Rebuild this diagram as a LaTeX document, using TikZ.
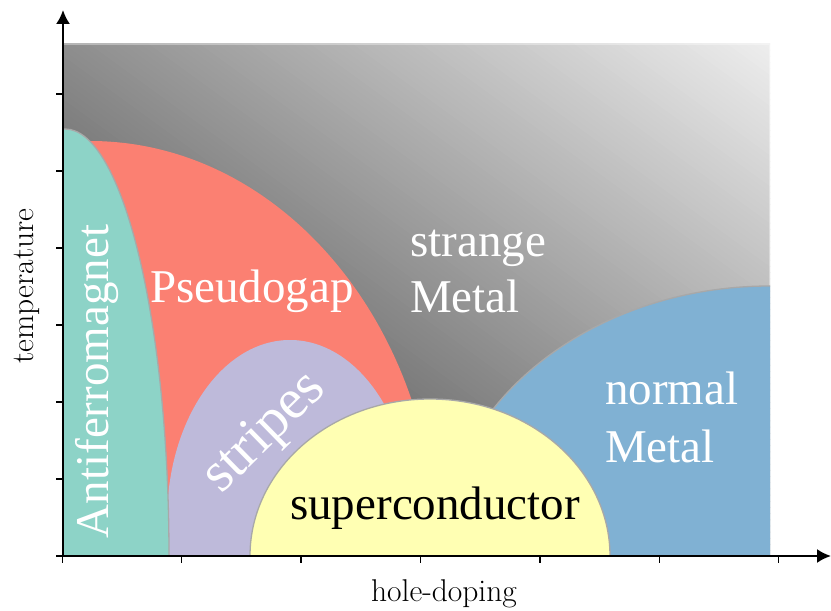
\documentclass[tikz,border=0pt]{standalone}
\usepackage{fontspec}
\newfontfamily\labelfont{Liberation Serif}
\usetikzlibrary{arrows.meta}
\definecolor{afmcol}{HTML}{8DD3C7}
\definecolor{pgcol}{HTML}{FB8072}
\definecolor{stpcol}{HTML}{BEBADA}
\definecolor{sccol}{HTML}{FFFFB3}
\definecolor{nmcol}{HTML}{80B1D3}
\definecolor{edgecol}{HTML}{A8A8A8}
\begin{document}
\begin{tikzpicture}[x=1pt,y=1pt,
  phase/.style={draw=edgecol,line width=1.3pt},
  biglabel/.style={font=\labelfont\fontsize{47}{56}\selectfont, text=white, inner sep=0pt},
  axislabel/.style={font=\fontsize{31.5}{36}\selectfont, inner sep=0pt},
  axisline/.style={line width=2pt, -{Latex[length=14pt,width=14pt]}},
  tickmark/.style={line width=1.3pt}]
\useasboundingbox (0,0) rectangle (831,611);
\begin{scope}
  \clip (63,55) rectangle (770,567);
  % gradient background
  \begin{scope}[shift={(65,566)}, rotate=54]
    \foreach \t in {-420,-415,...,420}{
      \pgfmathsetmacro\gv{min(1,max(0,(142+0.232*\t)/255))}
      \definecolor{stripcol}{gray}{\gv}
      \fill[stripcol] (\t,-1000) rectangle (\t+5.6,1000);
    }
  \end{scope}
  \draw[white, opacity=0.35, line width=2pt] (63,55) rectangle (770,567);
  % phases
  \fill[pgcol] (90,55) ellipse [x radius=347pt, y radius=415pt];
  \fill[stpcol] (290,91) ellipse [x radius=123pt, y radius=180pt];
  \filldraw[afmcol, phase] (65,55) ellipse [x radius=104pt, y radius=427pt];
  \filldraw[nmcol, phase] (770,55) ellipse [x radius=330pt, y radius=270pt];
  \filldraw[sccol, phase] (430,55) ellipse [x radius=180pt, y radius=157pt];
\end{scope}
% labels
\node[biglabel, anchor=base west] (strangeA) at (410,354) {strange};
\node[biglabel, anchor=base west] (strangeB) at (410,298) {Metal};
\node[biglabel, anchor=base west] (pseudo) at (150,308) {Pseudogap};
\node[biglabel, anchor=base west] (normalA) at (605,206) {normal};
\node[biglabel, anchor=base west] (normalB) at (605,148) {Metal};
\node[biglabel, anchor=base west, text=black] (superc) at (290,91) {superconductor};
\node[biglabel, rotate=90, anchor=base] (antiferro) at (108,229.5) {Antiferromagnet};
\node[biglabel, font=\labelfont\fontsize{57}{64}\selectfont, rotate=44.4] (stripes) at (265.5,177.5) {stripes};
% axes
\coordinate (O) at (63,55);
\coordinate (Ytip) at (63,601);
\coordinate (Xtip) at (831,55);
\draw[axisline] (O) -- (Ytip);
\draw[axisline] (O) -- (Xtip);
\foreach \yy in {55,132,209,286,363,440,517} \draw[tickmark] (56,\yy) -- (63,\yy);
\foreach \xx in {62.3,181.7,301.1,420.5,539.9,659.3,778.7} \draw[tickmark] (\xx,55) -- (\xx,48);
\node[axislabel, rotate=90, anchor=base] (tlabel) at (33,325) {temperature};
\node[axislabel, anchor=base] (hlabel) at (444,9) {hole-doping};
\end{tikzpicture}
\end{document}
